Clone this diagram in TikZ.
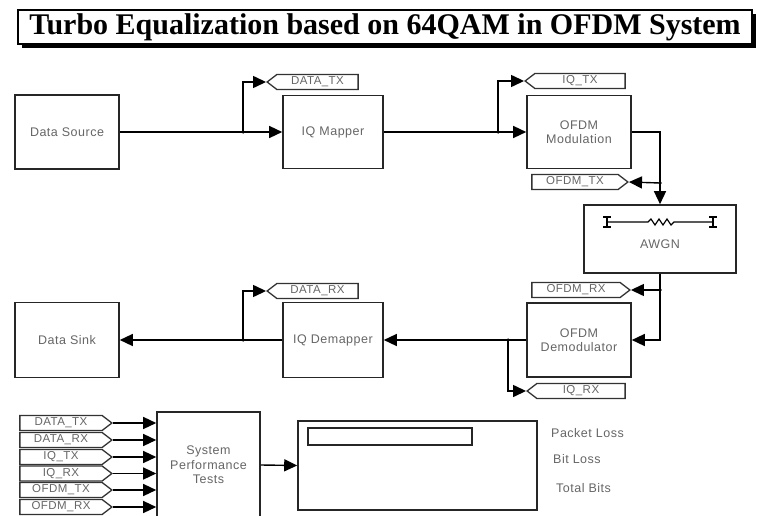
\documentclass[tikz,border=0pt]{standalone}
\usepackage{fontspec}
\setmainfont{Liberation Sans}
\newfontfamily\titlefont{Liberation Serif}
\newfontfamily\blockfont[LetterSpace=4]{Liberation Sans}
\usetikzlibrary{shapes.symbols,arrows.meta,shadows}
\begin{document}
\begin{tikzpicture}[x=1pt,y=-1pt,
  blk/.style={draw=black!85, line width=1.6pt, fill=white, text=black!60,
    font=\blockfont\fontsize{12.5}{14.5}\selectfont, align=center, inner sep=0pt},
  tagbase/.style={signal, draw=black!80, line width=1.3pt, fill=white,
    text=black!60, font=\blockfont\fontsize{11.5}{12}\selectfont, minimum height=15pt,
    inner sep=0pt, signal pointer angle=75},
  tagL/.style={tagbase, signal to=west},
  tagR/.style={tagbase, signal to=east},
  wire/.style={line width=1.4pt, black},
  arr/.style={wire, -{Triangle[length=13pt,width=12pt]}},
  jdot/.style={circle, fill=black, inner sep=0pt, minimum size=3.5pt},
  lbl/.style={anchor=west, text=black!60, font=\blockfont\fontsize{12.5}{14}\selectfont, inner sep=0pt}]
\useasboundingbox (0,0) rectangle (757,516);
\clip (0,0) rectangle (757,516);

% title banner with drop shadow
\node[draw, line width=1.6pt, fill=white, minimum width=734pt, minimum height=34pt,
  inner sep=0pt, drop shadow={shadow xshift=4pt, shadow yshift=-4pt, opacity=1, fill=black},
  font=\titlefont\bfseries\fontsize{30}{32}\selectfont] (title) at (385,27)
  {Turbo Equalization based on 64QAM in OFDM System};

% transmitter chain
\node[blk, minimum width=104pt, minimum height=74pt] (src) at (67,132) {Data Source};
\node[blk, minimum width=100pt, minimum height=73pt] (map) at (333,132) {IQ Mapper};
\node[blk, minimum width=104pt, minimum height=73pt] (mod) at (579,132) {OFDM\\Modulation};
\node[blk, minimum width=152pt, minimum height=68pt, text depth=0pt] (awgn) at (660,239) {\\[4pt]AWGN};

% receiver chain
\node[blk, minimum width=104pt, minimum height=74pt] (dem) at (579,340) {OFDM\\Demodulator};
\node[blk, minimum width=100pt, minimum height=75pt] (demap) at (333,340) {IQ Demapper};
\node[blk, minimum width=104pt, minimum height=75pt] (sink) at (67,340) {Data Sink};

% channel icon inside the AWGN block
\draw[line width=1.2pt] (607,222) -- (648,222) -- (651,219) -- (655,225) -- (659,219)
  -- (663,225) -- (667,219) -- (671,225) -- (674,222) -- (713,222);
\foreach \xx in {607,713}{
  \draw[line width=1.4pt] (\xx,217) -- (\xx,227);
  \draw[line width=1.2pt] (\xx-4,217) -- (\xx+4,217) (\xx-4,227) -- (\xx+4,227);
}

% goto tags
\node[tagL, minimum width=91pt] (dtx) at (317.5,82) {DATA\_TX};
\node[tagL, minimum width=100pt] (iqtx) at (580,81) {IQ\_TX};
\node[tagR, minimum width=96pt] (otx) at (575,182) {OFDM\_TX};
\node[tagR, minimum width=98pt] (orx) at (576,290) {OFDM\_RX};
\node[tagL, minimum width=98pt] (iqrx) at (581,391) {IQ\_RX};
\node[tagL, minimum width=91pt] (drx) at (317.5,291) {DATA\_RX};

% junctions
\node[jdot] (j1) at (243,132) {};
\node[jdot] (j2) at (498,132) {};
\node[jdot] (j3) at (660,183) {};
\node[jdot] (j4) at (660,290) {};
\node[jdot] (j5) at (508,340) {};
\node[jdot] (j6) at (243,340) {};

% signal flow
\draw[arr] (src.east) -- (map.west);
\draw[arr] (j1.center) |- (dtx.west);
\draw[arr] (map.east) -- (mod.west);
\draw[arr] (j2.center) |- (iqtx.west);
\draw[arr] (mod.east) -| (awgn.north);
\draw[arr] (j3.center) -- (otx.east);
\draw[arr] (awgn.south) |- (dem.east);
\draw[arr] (j4.center) -- (orx.east);
\draw[arr] (dem.west) -- (demap.east);
\draw[arr] (j5.center) |- (iqrx.west);
\draw[arr] (demap.west) -- (sink.east);
\draw[arr] (j6.center) |- (drx.west);

% performance evaluation
\node[blk, minimum width=103pt, minimum height=106pt] (perf) at (208.5,465) {System\\Performance\\Tests};
\node[blk, minimum width=239pt, minimum height=89pt] (disp) at (417.5,465.5) {};
\node[draw=black!85, line width=1.4pt, minimum width=164pt, minimum height=17pt, inner sep=0pt] (bar) at (390,436.5) {};
\node[lbl] (pl) at (551,433) {Packet Loss};
\node[lbl] (bl) at (553,459) {Bit Loss};
\node[lbl] (tb) at (556,488) {Total Bits};

\foreach \nm/\txt/\yy in {f1/DATA\_TX/423, f2/DATA\_RX/440, f3/IQ\_TX/457,
                         f4/IQ\_RX/473.5, f5/OFDM\_TX/490, f6/OFDM\_RX/507}{
  \node[tagR, minimum width=92pt] (\nm) at (61,\yy) {\txt};
  \draw[arr] (\nm.east) -- (perf.west |- \nm.east);
}
\draw[arr] (perf.east) -- (disp.west);
\end{tikzpicture}
\end{document}
